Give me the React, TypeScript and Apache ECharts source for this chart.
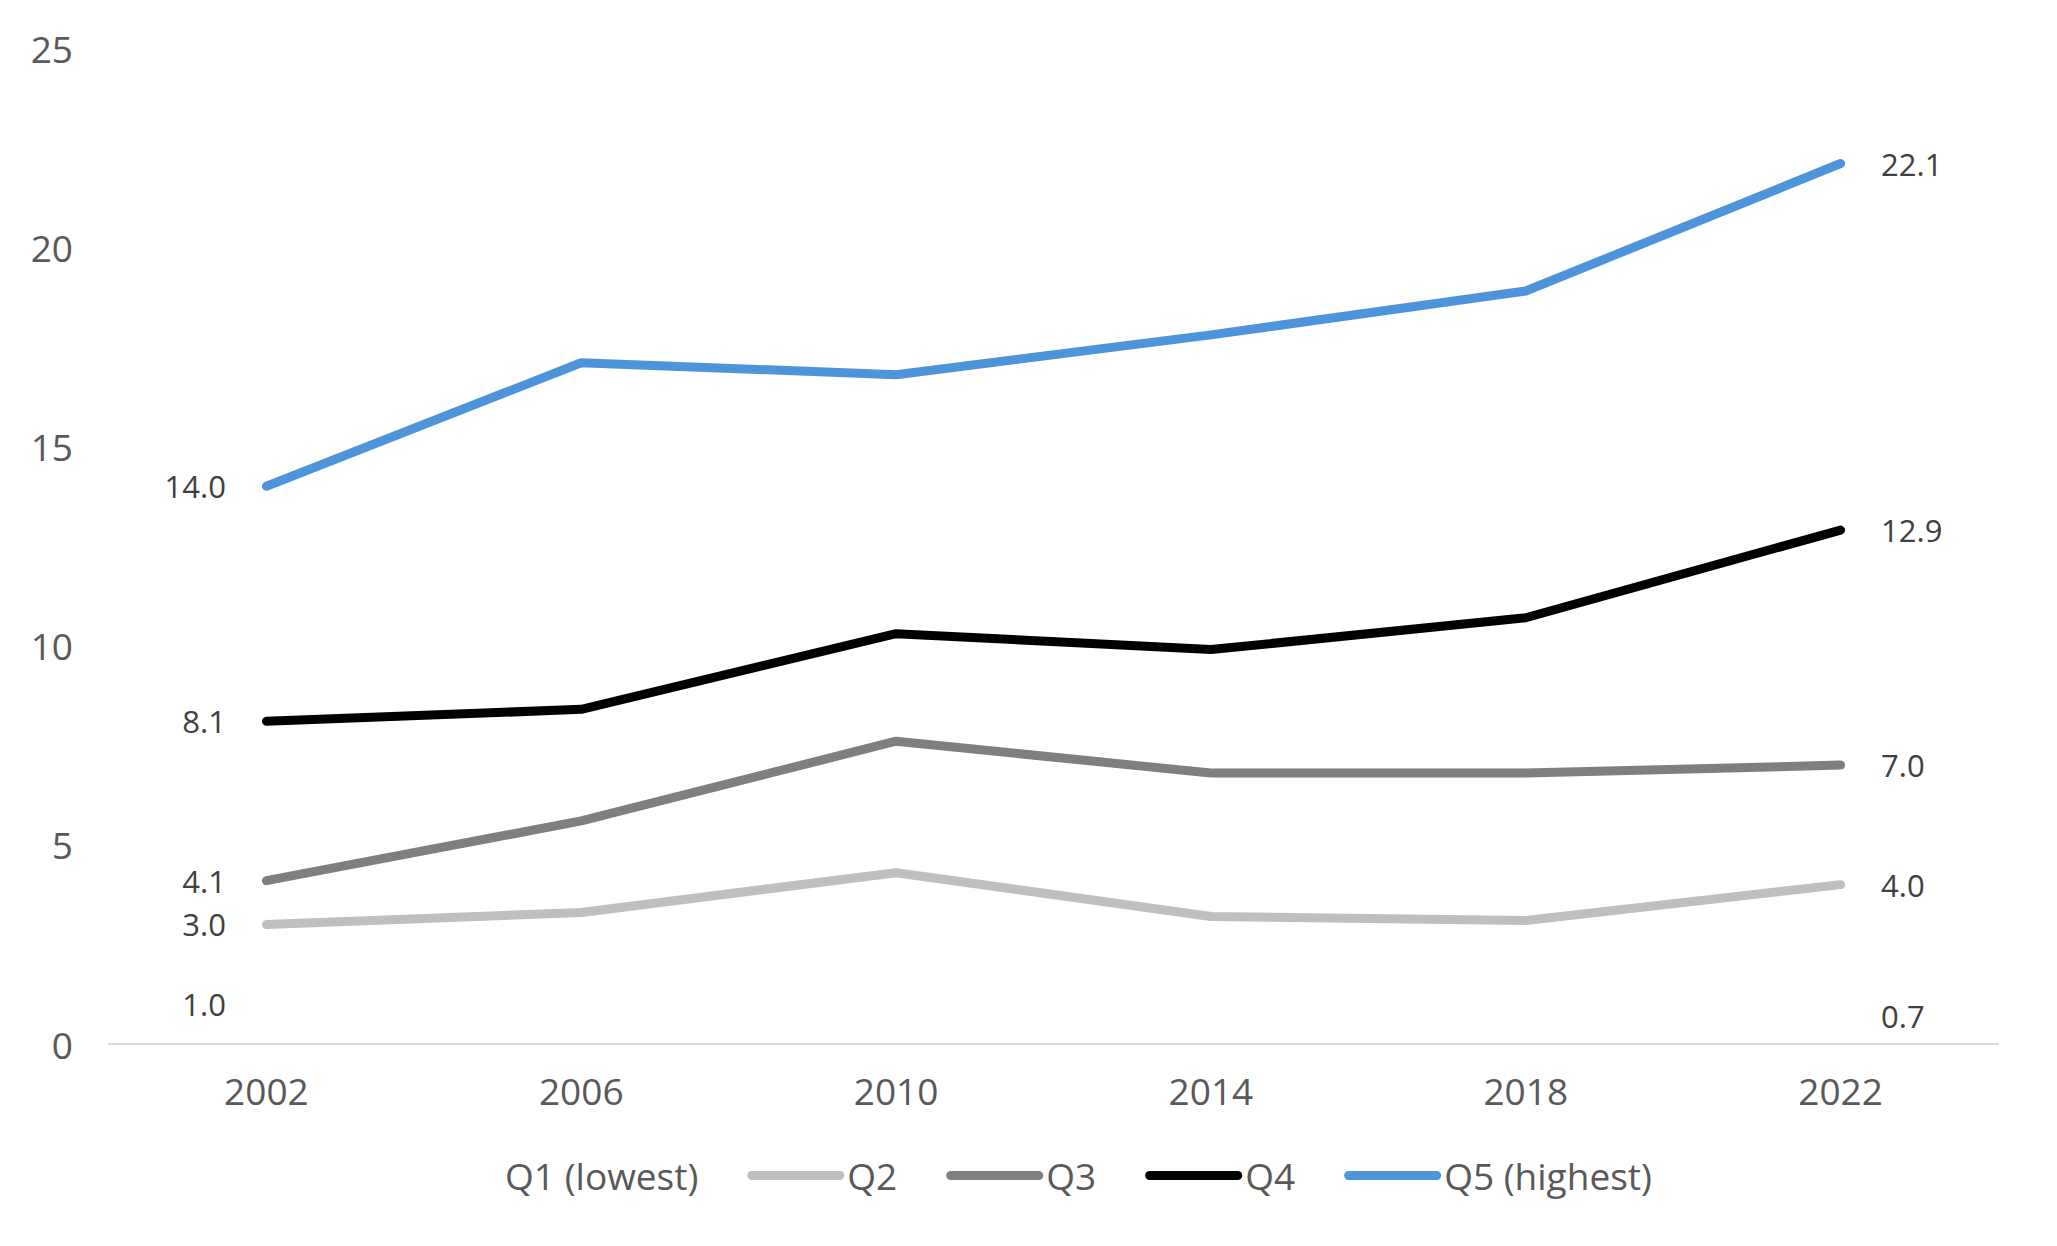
import React, { useEffect, useRef } from "react";
import * as echarts from "echarts";

const years = ["2002", "2006", "2010", "2014", "2018", "2022"];
const seriesNames = ["Q1 (lowest)", "Q2", "Q3", "Q4", "Q5 (highest)"];
// Q1's line is drawn in white in the original, only its end values are readable
const q1 = [1.0, null, null, null, null, 0.7];
const q2 = [3.0, 3.3, 4.3, 3.2, 3.1, 4.0];
const q3 = [4.1, 5.6, 7.6, 6.8, 6.8, 7.0];
const q4 = [8.1, 8.4, 10.3, 9.9, 10.7, 12.9];
const q5 = [14.0, 17.1, 16.8, 17.8, 18.9, 22.1];
const colors = ["#ffffff", "#bfbfbf", "#7f7f7f", "#000000", "#4d94db"];

const FONT = "'Open Sans', Lato, sans-serif";
const LEGEND_ICON =
  "path://M4.5,0 L92.5,0 A4.5,4.5 0 0 1 92.5,9 L4.5,9 A4.5,4.5 0 0 1 4.5,0 Z";

function buildSeries(name: string, values: (number | null)[], color: string) {
  const last = values.length - 1;
  return {
    name,
    type: "line",
    symbol: "none",
    color,
    itemStyle: { color },
    lineStyle: { color, width: 9, cap: "round", join: "round" },
    data: values.map((v, i) => {
      if (i === 0 || i === last) {
        return {
          value: v,
          symbol: "circle",
          symbolSize: 1,
          itemStyle: { color },
          label: {
            show: true,
            position: i === 0 ? "left" : "right",
            distance: 40,
            formatter: (p: any) => Number(p.value).toFixed(1),
            color: "#404040",
            fontSize: 31,
            fontFamily: FONT,
          },
        };
      }
      return v;
    }),
  };
}

export default function App() {
  const ref = useRef<HTMLDivElement>(null);
  useEffect(() => {
    if (!ref.current) return;
    const chart = echarts.init(ref.current, null, { renderer: "svg" });
    const all = [q1, q2, q3, q4, q5];
    chart.setOption({
      animation: false,
      backgroundColor: "#ffffff",
      textStyle: { fontFamily: FONT },
      grid: { left: 109, right: 59, top: 48, bottom: 202 },
      legend: {
        data: seriesNames.map((n, i) => ({
          name: n,
          icon: LEGEND_ICON,
          itemStyle: { color: colors[i], borderWidth: 0 },
        })),
        left: "center",
        top: 1152,
        itemWidth: 97,
        itemHeight: 9,
        itemGap: 49,
        textStyle: { color: "#595959", fontSize: 37, fontFamily: FONT, padding: [0, 0, 0, -2] },
      },
      xAxis: {
        type: "category",
        data: years,
        boundaryGap: true,
        axisLine: { show: true, lineStyle: { color: "#d9d9d9", width: 2 } },
        axisTick: { show: false },
        axisLabel: { color: "#595959", fontSize: 37, fontFamily: FONT, margin: 28 },
      },
      yAxis: {
        type: "value",
        min: 0,
        max: 25,
        interval: 5,
        axisLine: { show: false },
        axisTick: { show: false },
        splitLine: { show: false },
        axisLabel: { color: "#595959", fontSize: 37, fontFamily: FONT, margin: 36 },
      },
      series: seriesNames.map((n, i) => buildSeries(n, all[i], colors[i])),
    });
    return () => chart.dispose();
  }, []);
  return (
    <div
      ref={ref}
      style={{ position: "absolute", left: 0, top: 0, width: 2057, height: 1246 }}
    />
  );
}
